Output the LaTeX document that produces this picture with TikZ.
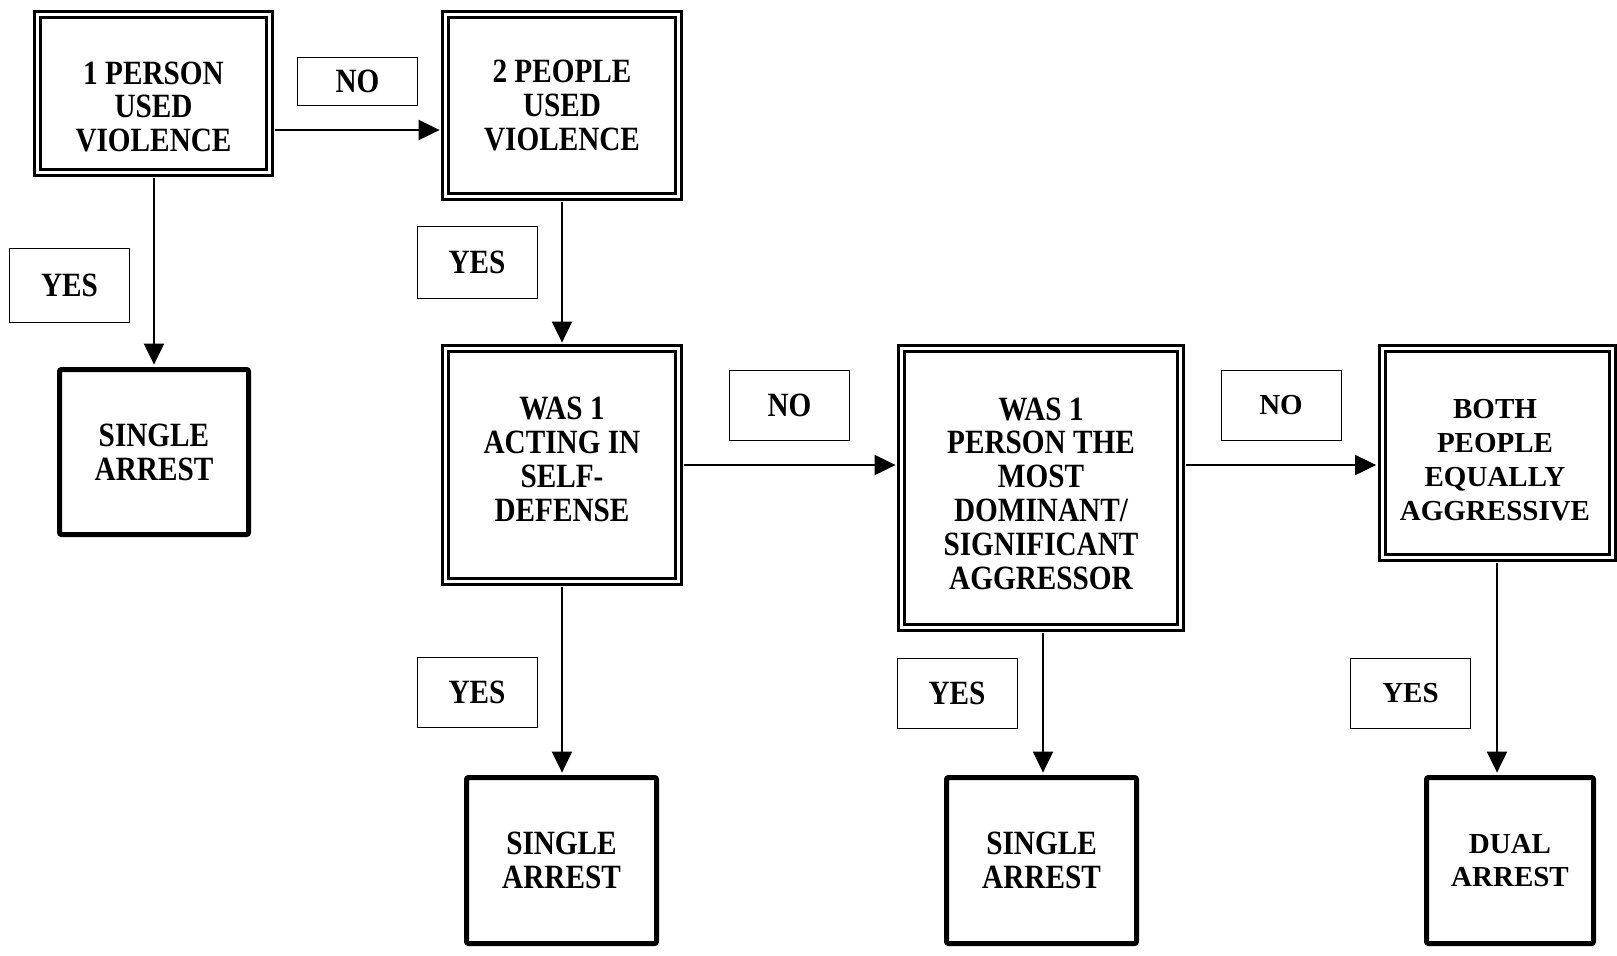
\documentclass[tikz,border=0pt]{standalone}
\usepackage{fontspec}
\setmainfont{Liberation Serif}
\newfontfamily\condfont{Liberation Serif}[FakeStretch=0.86]
\usetikzlibrary{arrows.meta}
\tikzset{
  cond/.style={font=\condfont\bfseries\fontsize{17pt}{16.9pt}\selectfont},
  wide/.style={font=\bfseries\fontsize{14.5pt}{16.9pt}\selectfont},
  dbox/.style={draw, double, line width=1.5pt, double distance=1.5pt, align=center, inner sep=0pt},
  tbox/.style={draw, line width=2.5pt, rounded corners=1pt, align=center, inner sep=0pt},
  lbox/.style={draw, line width=0.5pt, align=center, inner sep=0pt, minimum width=60pt, minimum height=35pt},
  txt/.style={align=center, inner sep=0pt},
  arr/.style={line width=1pt, -{Triangle[length=10.5pt,width=10pt]}},
  darr/.style={arr, shorten >=2.2pt, shorten <=2.2pt},
}
\begin{document}
\begin{tikzpicture}[x=0.5pt,y=-0.5pt]
\useasboundingbox (0,0) rectangle (1617,955);
% decision boxes
\node[dbox,minimum width=116pt,minimum height=79pt] (A) at (153.5,93.5) {};
\node[txt,cond] (At) at ([yshift=-6.7pt]A.center) {1 PERSON\\USED\\VIOLENCE};
\node[dbox,cond,minimum width=116.5pt,minimum height=91pt] (B) at (562,105.5) {2 PEOPLE\\USED\\VIOLENCE};
\node[dbox,minimum width=116.5pt,minimum height=116.5pt] (C) at (562,465) {};
\node[txt,cond] (Ct) at ([yshift=2.8pt]C.center) {WAS 1\\ACTING IN\\SELF-\\DEFENSE};
\node[dbox,minimum width=139.5pt,minimum height=139.5pt] (D) at (1041,488) {};
\node[txt,cond] (Dt) at ([yshift=-2.7pt]D.center) {WAS 1\\PERSON THE\\MOST\\DOMINANT/\\SIGNIFICANT\\AGGRESSOR};
\node[dbox,minimum width=115pt,minimum height=104.5pt] (E) at (1497,453) {};
\node[txt,wide] (Et) at ([yshift=-3.6pt,xshift=-1pt]E.center) {BOTH\\PEOPLE\\EQUALLY\\AGGRESSIVE};
% outcome boxes
\node[tbox,cond,minimum width=94.5pt,minimum height=82.5pt] (S1) at (154,452) {SINGLE\\ARREST};
\node[tbox,cond,minimum width=95pt,minimum height=83pt] (S2) at (561.5,860.5) {SINGLE\\ARREST};
\node[tbox,cond,minimum width=95pt,minimum height=83pt] (S3) at (1041.5,860.5) {SINGLE\\ARREST};
\node[tbox,wide,minimum width=83.5pt,minimum height=83pt] (S4) at (1510,860.5) {DUAL\\ARREST};
% labels
\node[lbox,cond,minimum height=24pt] (L1) at (357.5,81) {NO};
\node[lbox,cond,minimum height=37pt] (L2) at (69.5,285) {YES};
\node[lbox,cond,minimum height=36pt] (L3) at (477,262) {YES};
\node[lbox,cond] (L4) at (789.5,405) {NO};
\node[lbox,wide] (L5) at (1281,405) {NO};
\node[lbox,cond] (L6) at (477,692) {YES};
\node[lbox,cond] (L7) at (957,693) {YES};
\node[lbox,wide] (L8) at (1410.5,693) {YES};
% connectors
\draw[darr] (A.east |- 0,130) -- (B.west |- 0,130);
\draw[arr, shorten <=2.2pt, shorten >=1.2pt] (A.south -| 154,0) -- (S1.north -| 154,0);
\draw[darr] (B.south -| 562,0) -- (C.north -| 562,0);
\draw[darr] (C.east |- 0,465) -- (D.west |- 0,465);
\draw[darr] (D.east |- 0,465) -- (E.west |- 0,465);
\draw[arr, shorten <=2.2pt, shorten >=1.2pt] (C.south -| 562,0) -- (S2.north -| 562,0);
\draw[arr, shorten <=2.2pt, shorten >=1.2pt] (D.south -| 1043,0) -- (S3.north -| 1043,0);
\draw[arr, shorten <=2.2pt, shorten >=1.2pt] (E.south -| 1497,0) -- (S4.north -| 1497,0);
\end{tikzpicture}
\end{document}
